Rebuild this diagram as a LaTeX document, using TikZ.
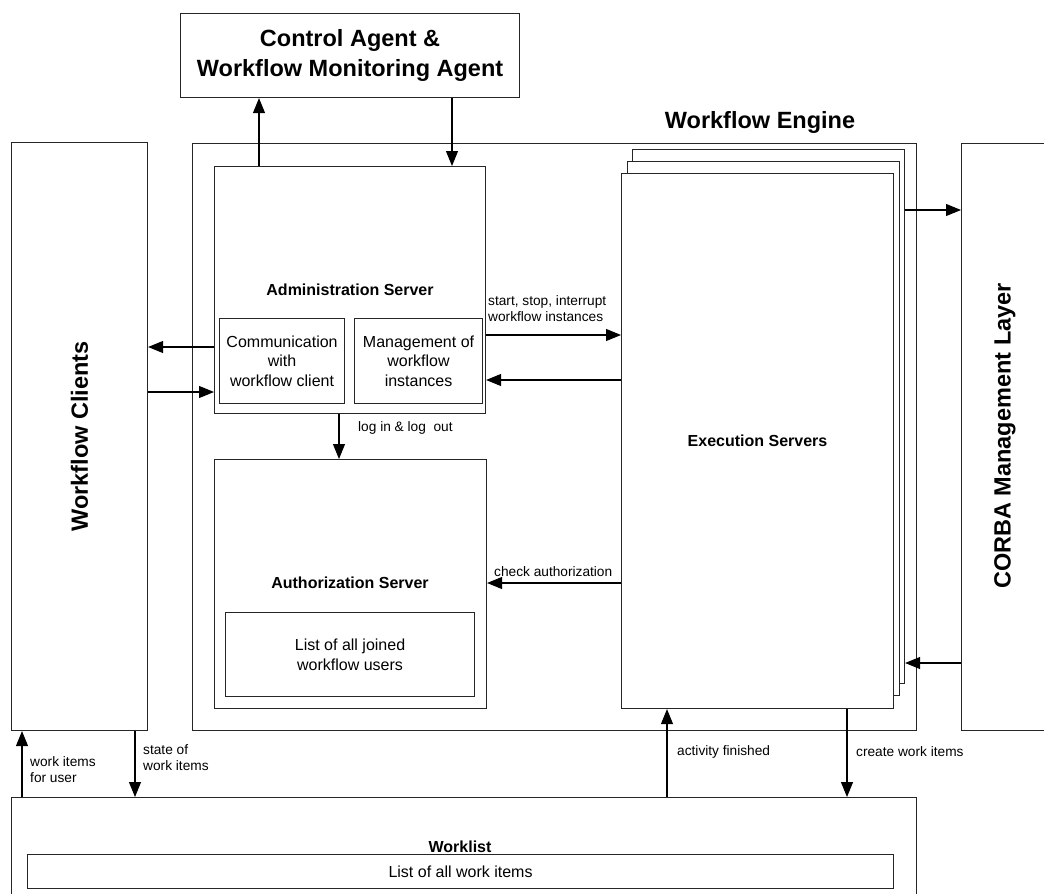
\documentclass[tikz,border=0pt]{standalone}
\usepackage{fontspec}
\setmainfont{Liberation Sans}
\usetikzlibrary{arrows.meta}
\begin{document}
\begin{tikzpicture}[x=1pt,y=-1pt,
  box/.style={draw=black!85, line width=1.1pt, rectangle, inner sep=0pt, anchor=north west, fill=white},
  conn/.style={draw=black, line width=1.1pt, -{Triangle[length=15pt,width=12pt]}},
  big/.style={font=\fontsize{23.5}{30}\selectfont\bfseries, align=center},
  head/.style={font=\fontsize{16}{19}\selectfont\bfseries, align=center, inner sep=0pt},
  body/.style={font=\fontsize{16}{19.5}\selectfont, align=center},
  small/.style={font=\fontsize{13.7}{16}\selectfont, align=left, inner sep=0pt, anchor=west},
]
\useasboundingbox (0,0) rectangle (1044,894);

% top-level blocks
\node[box, minimum width=339pt, minimum height=84pt, big] (ctrl) at (180,13)
  {Control Agent \&\\Workflow Monitoring Agent};
\node[box, minimum width=724pt, minimum height=587pt] (engine) at (192,143) {};
\node[big, inner sep=0pt] (enginelbl) at (760,122) {Workflow Engine};
\node[box, minimum width=136pt, minimum height=588pt] (clients) at (11,142) {};
\node[big, inner sep=0pt, rotate=90] (clientslbl) at (clients.center) {Workflow Clients};
\node[box, minimum width=92pt, minimum height=587pt] (corba) at (961,143) {};
\node[big, inner sep=0pt, rotate=90] (corbalbl) at (1005,436) {CORBA Management Layer};

% administration server
\node[box, minimum width=271pt, minimum height=247pt] (admin) at (214,166) {};
\node[head] (adminlbl) at (350,290) {Administration Server};
\node[box, minimum width=125pt, minimum height=85pt, body] (comm) at (219,318)
  {Communication\\with\\workflow client};
\node[box, minimum width=128pt, minimum height=85pt, body] (mgmt) at (354,318)
  {Management of\\workflow\\instances};

% authorization server
\node[box, minimum width=272pt, minimum height=249pt] (auth) at (214,459) {};
\node[head] (authlbl) at (350,583) {Authorization Server};
\node[box, minimum width=249pt, minimum height=84pt, body] (users) at (225,612)
  {List of all joined\\workflow users};

% stacked execution servers
\node[box, minimum width=272pt, minimum height=534pt] (execC) at (632,149) {};
\node[box, minimum width=272pt, minimum height=534pt] (execB) at (627,161) {};
\node[box, minimum width=272pt, minimum height=535pt, head] (execA) at (621,173) {Execution Servers};

% worklist
\node[box, minimum width=905pt, minimum height=120pt] (worklist) at (11,797) {};
\node[head, anchor=base] (worklistlbl) at (460,852) {Worklist};
\node[box, minimum width=866pt, minimum height=34pt, body] (items) at (27,854) {List of all work items};

% connector anchor points
\coordinate (p1) at ([xshift=45pt]admin.north west);
\coordinate (p2) at ([xshift=272pt]ctrl.south west);
\coordinate (p3) at ([yshift=-181pt]admin.north west);
\coordinate (p4) at ([yshift=-226pt]admin.north west);
\coordinate (p5) at ([yshift=-169pt]admin.north east);
\coordinate (p6) at ([yshift=-214pt]admin.north east);
\coordinate (p7) at ([xshift=125pt]admin.south west);
\coordinate (p8) at ([yshift=-124pt]auth.north east);
\coordinate (p9) at ([yshift=-61pt]execC.north east);
\coordinate (p10) at ([yshift=-514pt]execC.north east);
\coordinate (p11) at ([xshift=11pt]clients.south west);
\coordinate (p12) at ([xshift=124pt]clients.south west);
\coordinate (p13) at ([xshift=46pt]execA.south west);
\coordinate (p14) at ([xshift=226pt]execA.south west);

% connectors
\draw[conn] (p1) -- (p1 |- ctrl.south);
\draw[conn] (p2) -- (p2 |- admin.north);
\draw[conn] (p3) -- (p3 -| clients.east);
\draw[conn] (p4 -| clients.east) -- (p4);
\draw[conn] (p5) -- (p5 -| execA.west);
\draw[conn] (p6 -| execA.west) -- (p6);
\draw[conn] (p7) -- (p7 |- auth.north);
\draw[conn] (p8 -| execA.west) -- (p8);
\draw[conn] (p9) -- (p9 -| corba.west);
\draw[conn] (p10 -| corba.west) -- (p10);
\draw[conn] (p11 |- worklist.north) -- (p11);
\draw[conn] (p12) -- (p12 |- worklist.north);
\draw[conn] (p13 |- worklist.north) -- (p13);
\draw[conn] (p14) -- (p14 |- worklist.north);

% connector labels
\node[small] (l5) at (488,309) {start, stop, interrupt\\workflow instances};
\node[small] (l7) at (358,428) {log in \& log\ \ out};
\node[small] (l8) at (494,572) {check authorization};
\node[small] (l11) at (30,770) {work items\\for user};
\node[small] (l12) at (143,758) {state of\\work items};
\node[small] (l13) at (677,752) {activity finished};
\node[small] (l14) at (856,752) {create work items};
\end{tikzpicture}
\end{document}
